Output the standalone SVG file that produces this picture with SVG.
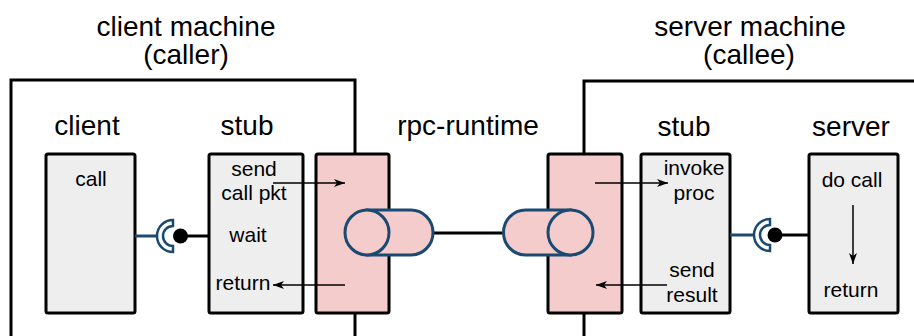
<svg xmlns="http://www.w3.org/2000/svg" width="914" height="336" viewBox="0 0 914 336">
<style>
  .t{font-family:"Liberation Sans",Arial,sans-serif;fill:#000;text-anchor:middle}
  .h{font-size:28px}
  .s{font-size:21px}
  .box{fill:#eeeeee;stroke:#000;stroke-width:3}
  .rt{fill:#f4cccc;stroke:#000;stroke-width:3}
  .cyl{fill:#f4cccc;stroke:#1a4a72;stroke-width:3}
  .mach{fill:none;stroke:#000;stroke-width:3}
  .ln{stroke:#000;stroke-width:3;fill:none}
  .bl{stroke:#1a4a72;stroke-width:3;fill:none}
  .ar{stroke:#000;stroke-width:1.5;fill:none;marker-end:url(#ah)}
  .sock{fill:#ffffff;stroke:#1a4a72;stroke-width:2.5}
</style>
<defs>
  <marker id="ah" markerWidth="12" markerHeight="10" refX="11" refY="5" orient="auto" markerUnits="userSpaceOnUse">
    <path d="M0,1 L11,5 L0,9 L3,5 Z" fill="#000"/>
  </marker>
</defs>

<g id="client-machine">
  <path class="mach" d="M11,336 V80 H355 V336"/>
  <text class="t h" x="186" y="36">client machine</text>
  <text class="t h" x="186" y="64">(caller)</text>
</g>
<g id="server-machine">
  <path class="mach" d="M584,336 V81 H916"/>
  <text class="t h" x="750" y="36">server machine</text>
  <text class="t h" x="749" y="64">(callee)</text>
</g>

<g id="client">
  <text class="t h" x="87" y="135">client</text>
  <rect class="box" x="46" y="154" width="89" height="159" rx="2"/>
  <text class="t s" x="91" y="186">call</text>
</g>
<g id="client-stub">
  <text class="t h" x="247" y="135">stub</text>
  <rect class="box" x="209" y="154" width="94" height="159" rx="2"/>
  <text class="t s" x="254" y="176">send</text>
  <text class="t s" x="254" y="200">call pkt</text>
  <text class="t s" x="248" y="242">wait</text>
  <text class="t s" x="243" y="290">return</text>
</g>
<g id="rpc-runtime-left">
  <rect class="rt" x="316" y="154" width="73" height="159" rx="2"/>
</g>
<g id="rpc-runtime-label">
  <text class="t h" x="468" y="135">rpc-runtime</text>
</g>
<g id="rpc-runtime-right">
  <rect class="rt" x="548" y="154" width="74" height="159" rx="2"/>
</g>
<g id="server-stub">
  <text class="t h" x="684" y="136">stub</text>
  <rect class="box" x="641" y="154" width="89" height="159" rx="2"/>
  <text class="t s" x="694" y="175">invoke</text>
  <text class="t s" x="694" y="200">proc</text>
  <text class="t s" x="692" y="277">send</text>
  <text class="t s" x="692" y="302">result</text>
</g>
<g id="server">
  <text class="t h" x="851" y="136">server</text>
  <rect class="box" x="809" y="154" width="89" height="159" rx="2"/>
  <text class="t s" x="852" y="187">do call</text>
  <text class="t s" x="851" y="297">return</text>
</g>

<g id="connectors">
  <line class="ln" x1="433" y1="233" x2="503" y2="233"/>
  <path class="cyl" d="M367,210 H411 A22,22.5 0 0 1 411,255 H367 Z"/>
  <ellipse class="cyl" cx="367" cy="232.5" rx="22" ry="22.5"/>
  <path class="cyl" d="M570.5,210 H525.5 A22,22.5 0 0 0 525.5,255 H570.5 Z"/>
  <ellipse class="cyl" cx="570.5" cy="232.5" rx="22.5" ry="22.5"/>
  <line class="bl" x1="135" y1="236" x2="157" y2="236"/>
  <path class="sock" d="M173,220 A16,16 0 0 0 173,252 L173,246 A10,10 0 0 1 173,226 Z"/>
  <line class="ln" x1="187" y1="236" x2="209" y2="236"/>
  <circle cx="180.5" cy="236" r="7.5" fill="#000"/>
  <line class="bl" x1="730" y1="235" x2="754" y2="235"/>
  <path class="sock" d="M770,219 A16,16 0 0 0 770,251 L770,245 A10,10 0 0 1 770,225 Z"/>
  <line class="ln" x1="782" y1="235" x2="809" y2="235"/>
  <circle cx="775" cy="235" r="7.5" fill="#000"/>
  <line class="ar" x1="273" y1="183" x2="345" y2="183"/>
  <line class="ar" x1="345" y1="285" x2="273" y2="285"/>
  <line class="ar" x1="595" y1="183" x2="668" y2="183"/>
  <line class="ar" x1="667" y1="285" x2="596" y2="285"/>
  <line class="ar" x1="853" y1="205" x2="853" y2="264"/>
</g>
</svg>
